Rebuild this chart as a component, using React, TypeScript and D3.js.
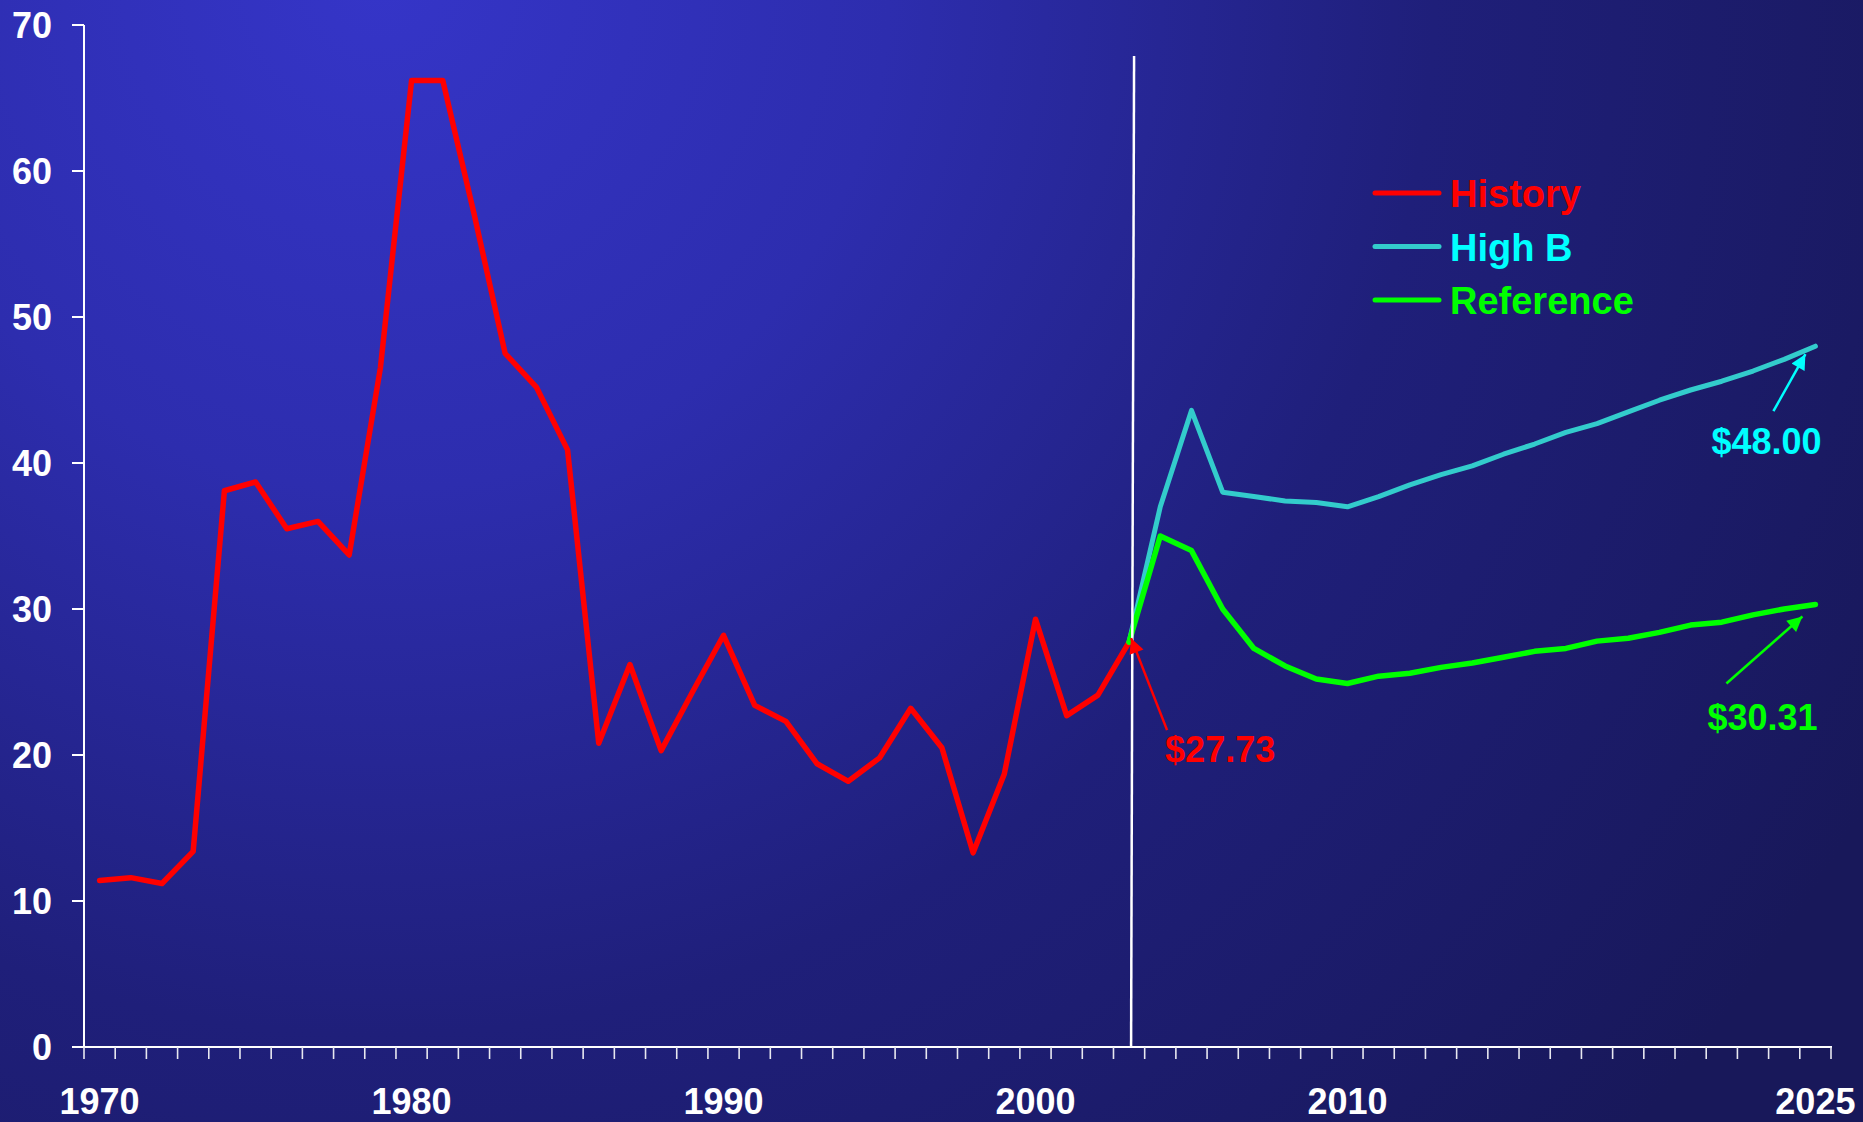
import React from 'react';
import * as d3 from 'd3';

const W = 1863;
const H = 1122;

// Categories
const years: number[] = d3.range(1970, 2026);
const yearLabels = [1970, 1980, 1990, 2000, 2010, 2025];
const yTicks = [0, 10, 20, 30, 40, 50, 60, 70];

// Series
const historyStart = 1970;
const historyValues = [
  11.4, 11.6, 11.2, 13.4, 38.1, 38.7, 35.5, 36.0, 33.7, 46.5,
  66.2, 66.2, 57.1, 47.5, 45.2, 40.9, 20.8, 26.2, 20.3, 24.3,
  28.2, 23.4, 22.3, 19.4, 18.2, 19.8, 23.2, 20.5, 13.3, 18.7,
  29.3, 22.7, 24.1, 27.73,
];
const forecastStart = 2003;
const highBValues = [
  27.73, 37.0, 43.6, 38.0, 37.7, 37.4, 37.3, 37.0, 37.7, 38.5,
  39.2, 39.8, 40.6, 41.3, 42.1, 42.7, 43.5, 44.3, 45.0, 45.6,
  46.3, 47.1, 48.0,
];
const referenceValues = [
  27.73, 35.0, 34.0, 30.0, 27.3, 26.1, 25.2, 24.9, 25.4, 25.6,
  26.0, 26.3, 26.7, 27.1, 27.3, 27.8, 28.0, 28.4, 28.9, 29.1,
  29.6, 30.0, 30.31,
];

const legendItems = [
  { name: 'History', line: '#FF0000', text: '#FF0000' },
  { name: 'High B', line: '#33CCCC', text: '#00FFFF' },
  { name: 'Reference', line: '#00FF00', text: '#00FF00' },
];

const FONT = '"Liberation Sans", Arial, Helvetica, sans-serif';

export default function App() {
  const x = d3.scaleBand<number>().domain(years).range([84, 1831]).padding(0);
  const bw = x.bandwidth();
  const cx = (yr: number) => (x(yr) as number) + bw / 2;
  const y = d3.scaleLinear().domain([0, 70]).range([1047, 25]);

  const toPts = (start: number, vals: number[]) =>
    vals.map((v, i) => [cx(start + i), y(v)] as [number, number]);

  const line = d3.line<[number, number]>();
  const hist = toPts(historyStart, historyValues);
  const highB = toPts(forecastStart, highBValues);
  const ref = toPts(forecastStart, referenceValues);

  const histLast = hist[hist.length - 1];
  const highLast = highB[highB.length - 1];
  const refLast = ref[ref.length - 1];

  const boundaries = d3.range(years.length + 1).map((i) => 84 + i * bw);

  const vx = cx(forecastStart);

  return (
    <svg
      width={W}
      height={H}
      style={{ position: 'absolute', left: 0, top: 0, display: 'block' }}
      fontFamily={FONT}
    >
      <defs>
        <radialGradient id="bg" gradientUnits="userSpaceOnUse" cx={380} cy={-20} r={1700}>
          <stop offset="0" stopColor="#3535C8" />
          <stop offset="0.3" stopColor="#2D2DAE" />
          <stop offset="0.62" stopColor="#1F1F7A" />
          <stop offset="1" stopColor="#18185A" />
        </radialGradient>
        {[
          ['arRed', '#FF0000'],
          ['arCyan', '#00FFFF'],
          ['arGreen', '#00FF00'],
        ].map(([id, c]) => (
          <marker
            key={id}
            id={id}
            viewBox="0 0 10 10"
            refX={10}
            refY={5}
            markerWidth={18}
            markerHeight={15}
            markerUnits="userSpaceOnUse"
            orient="auto"
          >
            <path d="M0,0 L10,5 L0,10 z" fill={c} />
          </marker>
        ))}
      </defs>
      <rect x={0} y={0} width={W} height={H} fill="url(#bg)" />

      {/* Axes */}
      <line x1={84} x2={84} y1={y(70)} y2={y(0) + 1} stroke="#FFFFFF" strokeWidth={2} />
      <line x1={72} x2={1832} y1={y(0)} y2={y(0)} stroke="#FFFFFF" strokeWidth={2} />
      {yTicks.map((t) => (
        <g key={t}>
          <line x1={72} x2={84} y1={y(t)} y2={y(t)} stroke="#FFFFFF" strokeWidth={2} />
          <text
            x={52}
            y={y(t) + 13}
            textAnchor="end"
            fill="#FFFFFF"
            fontSize={36}
            fontWeight="bold"
          >
            {t}
          </text>
        </g>
      ))}
      {boundaries.map((b, i) => (
        <line key={i} x1={b} x2={b} y1={y(0)} y2={y(0) + 12} stroke="#E8E8F0" strokeWidth={1.6} />
      ))}
      {yearLabels.map((yr) => (
        <text
          key={yr}
          x={cx(yr)}
          y={1114}
          textAnchor="middle"
          fill="#FFFFFF"
          fontSize={36}
          fontWeight="bold"
        >
          {yr}
        </text>
      ))}

      {/* Series */}
      <path d={line(hist) || ''} fill="none" stroke="#FF0000" strokeWidth={5.5} strokeLinejoin="round" strokeLinecap="round" />
      <path d={line(highB) || ''} fill="none" stroke="#33CCCC" strokeWidth={5} strokeLinejoin="round" strokeLinecap="round" />
      <path d={line(ref) || ''} fill="none" stroke="#00FF00" strokeWidth={5.5} strokeLinejoin="round" strokeLinecap="round" />

      {/* Divider */}
      <line x1={vx + 2} x2={vx + 5} y1={y(0)} y2={56} stroke="#FFFFFF" strokeWidth={2.5} />

      {/* Annotations */}
      <line
        x1={histLast[0] + 38}
        y1={histLast[1] + 88}
        x2={histLast[0] + 2}
        y2={histLast[1] - 4}
        stroke="#FF0000"
        strokeWidth={2.5}
        markerEnd="url(#arRed)"
      />
      <text x={histLast[0] + 36} y={histLast[1] + 120} fill="#FF0000" fontSize={36} fontWeight="bold">
        ${historyValues[historyValues.length - 1].toFixed(2)}
      </text>

      <line
        x1={highLast[0] - 42}
        y1={highLast[1] + 65}
        x2={highLast[0] - 10}
        y2={highLast[1] + 8}
        stroke="#00FFFF"
        strokeWidth={2.5}
        markerEnd="url(#arCyan)"
      />
      <text x={highLast[0] - 104} y={highLast[1] + 108} fill="#00FFFF" fontSize={36} fontWeight="bold">
        ${highBValues[highBValues.length - 1].toFixed(2)}
      </text>

      <line
        x1={refLast[0] - 89}
        y1={refLast[1] + 79}
        x2={refLast[0] - 13}
        y2={refLast[1] + 12}
        stroke="#00FF00"
        strokeWidth={2.5}
        markerEnd="url(#arGreen)"
      />
      <text x={refLast[0] - 108} y={refLast[1] + 126} fill="#00FF00" fontSize={36} fontWeight="bold">
        ${referenceValues[referenceValues.length - 1].toFixed(2)}
      </text>

      {/* Legend */}
      {legendItems.map((it, i) => {
        const ly = 193 + i * 53.5;
        return (
          <g key={it.name}>
            <line x1={1375} x2={1439} y1={ly} y2={ly} stroke={it.line} strokeWidth={5} strokeLinecap="round" />
            <text x={1450} y={ly + 14} fill={it.text} fontSize={38} fontWeight="bold">
              {it.name}
            </text>
          </g>
        );
      })}
    </svg>
  );
}
